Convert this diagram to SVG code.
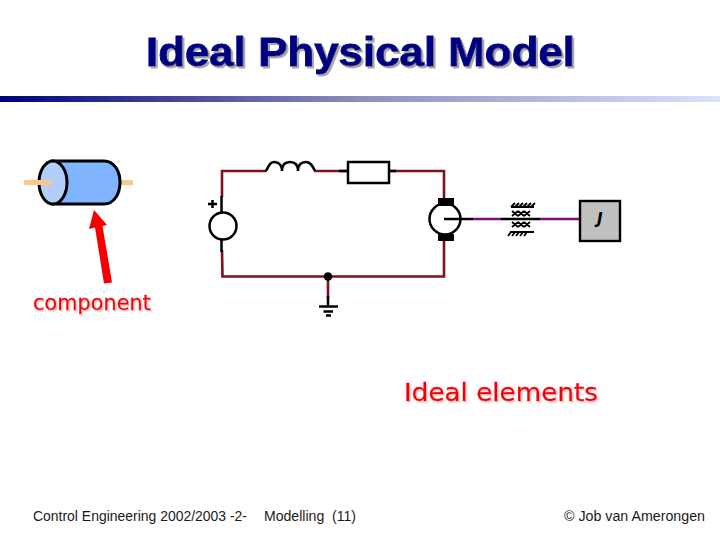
<svg xmlns="http://www.w3.org/2000/svg" width="720" height="540" viewBox="0 0 720 540">
<style>
.title{font:bold 41px "Liberation Sans",Arial,sans-serif;fill:#000080;stroke:#000080;stroke-width:.9;filter:url(#titleShadow)}
.foot{font:14px "Liberation Sans",Arial,sans-serif;fill:#1a1a1a;white-space:pre}
.note{font-family:"DejaVu Sans",sans-serif;fill:#ee0010;stroke:#ee0010;stroke-width:.35;filter:url(#noteShadow)}
.wire{fill:none;stroke:#80101c;stroke-width:2.6}
.blk{fill:none;stroke:#000;stroke-width:2.5}
.thin{fill:none;stroke:#000;stroke-width:1.8}
.shaft{fill:none;stroke:#800a80;stroke-width:2.6}
.comp{stroke:#000;stroke-width:3}
.lead{stroke:#fcc888;stroke-width:5;fill:none}
</style>
<defs>
<linearGradient id="bar" x1="0" x2="1" y1="0" y2="0">
<stop offset="0" stop-color="#00007c"/><stop offset="0.5" stop-color="#8a90bc"/><stop offset="1" stop-color="#dbe2fb"/>
</linearGradient>
<filter id="titleShadow" x="-5%" y="-20%" width="110%" height="140%"><feDropShadow dx="2" dy="2" stdDeviation="0" flood-color="#a8a8a8"/></filter>
<filter id="noteShadow" x="-5%" y="-20%" width="110%" height="140%"><feDropShadow dx="1.500" dy="1.500" stdDeviation="0" flood-color="#f4c4bc"/></filter>
</defs>
<rect width="720" height="540" fill="#fff"/>
<g id="title">
<text class="title" x="146" y="66" textLength="429" lengthAdjust="spacingAndGlyphs">Ideal Physical Model</text>
</g>
<rect id="title-bar" x="0" y="96" width="720" height="6" fill="url(#bar)"/>

<g id="component">
<path class="lead" d="M120 182.500H133"/>
<path class="comp" fill="#80b4ff" d="M52 161H104C114 161 120 171 120 182C120 194 114 204 104 204H52Z"/>
<ellipse class="comp" cx="53" cy="182.500" rx="14" ry="21.500" fill="#b4cefa"/>
<path class="lead" d="M24 182.500H51"/>
</g>
<g id="component-arrow">
<path fill="#f40000" d="M94 210L107 225L102.500 226L112 282.500L104 283.500L95 227.500L89 229Z"/>
</g>
<g id="component-label">
<text class="note" x="33" y="310" font-size="21" textLength="118" lengthAdjust="spacingAndGlyphs">component</text>
</g>

<g id="connectors">
<path class="wire" d="M222 197V171H265M314 171H348M389 171H444V198M222 250L222.500 276.500H444V241M328 276.500V298"/>
<path class="shaft" d="M473 219H501M540 219H580"/>
</g>

<g id="source">
<path class="blk" d="M221.500 196V212M221.500 240V252"/>
<circle class="blk" cx="223" cy="226" r="13.500" fill="#fff"/>
<path class="blk" d="M208 204H217M212.500 200V208"/>
</g>
<g id="inductor">
<path class="blk" d="M265 171C268 171 268 162 274 162C280 162 282 167 282 171C282 165 285 162 290 162C295 162 298 165 298 171C298 165 301 162 306 162C311 162 313 167 315 171"/>
</g>
<g id="resistor">
<path class="blk" d="M339 171H348M389 171H396"/>
<rect class="blk" x="348" y="162" width="41" height="21" fill="#fff"/>
</g>
<g id="junction"><circle cx="328" cy="276.500" r="4.300" fill="#000"/></g>
<g id="ground">
<path class="blk" d="M328 296V306M319 306.500H338M323.500 311.500H333M326 315.500H331"/>
</g>
<g id="motor">
<rect x="438" y="198" width="16" height="8" fill="#000"/>
<rect x="438" y="234" width="16" height="7" fill="#000"/>
<circle class="blk" cx="445" cy="219" r="15.500" fill="#fff"/>
<path class="blk" d="M444 219H473"/>
</g>
<g id="bearing">
<path class="blk" d="M501 219H540"/>
<path class="thin" d="M511 207H534M511 207L515 203M515 207L519 203M519 207L523 203M523 207L527 203M527 207L531 203M531 207L535 203"/>
<path class="thin" d="M512 211L518 216M518 211L512 216M518 211L524 216M524 211L518 216M524 211L530 216M530 211L524 216"/>
<path class="thin" d="M512 222L518 227M518 222L512 227M518 222L524 227M524 222L518 227M524 222L530 227M530 222L524 227"/>
<path class="thin" d="M510 232H534M508 236L511 232M512 236L515 232M516 236L519 232M520 236L523 232M524 236L527 232"/>
</g>
<g id="inertia">
<rect x="580" y="201" width="40" height="40" fill="#c0c0c0" stroke="#000" stroke-width="2.400"/>
<text x="597" y="224" font-family="'DejaVu Sans',sans-serif" font-weight="bold" font-style="italic" font-size="15" fill="#000">J</text>
</g>

<g id="elements-label">
<text class="note" x="404" y="401" font-size="25" textLength="194" lengthAdjust="spacingAndGlyphs">Ideal elements</text>
</g>
<g id="footer">
<text class="foot" x="33" y="521" textLength="214" lengthAdjust="spacingAndGlyphs">Control Engineering 2002/2003 -2-</text>
<text class="foot" x="264" y="521" textLength="92" lengthAdjust="spacingAndGlyphs" xml:space="preserve">Modelling  (11)</text>
<text class="foot" x="564" y="521" textLength="141" lengthAdjust="spacingAndGlyphs">© Job van Amerongen</text>
</g>
</svg>
